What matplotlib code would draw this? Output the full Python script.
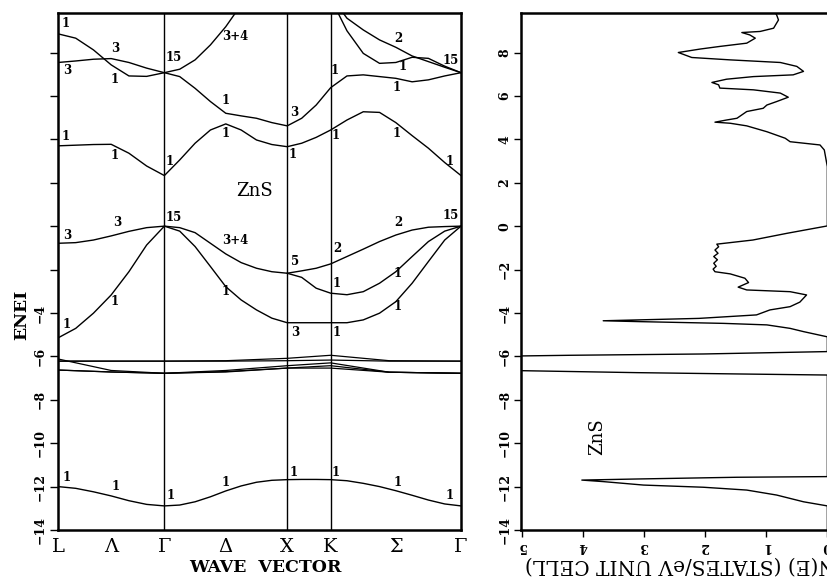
import matplotlib
matplotlib.use("Agg")
import matplotlib.pyplot as plt
import numpy as np

plt.rcParams['font.family'] = ['DejaVu Serif']

# high-symmetry points along the path (units of 2*pi/a)
sym_names = ['L', 'Λ', 'Γ', 'Δ', 'X', 'K', 'Σ', 'Γ']
sym_k = [0.0, 0.433, 0.866, 1.366, 1.866, 2.220, 2.750, 3.281]
node_k = [0.0, 0.866, 1.866, 2.220, 3.281]
seg_steps = [6, 8, 3, 8]

# band energies (eV) read on the sample grid: L..G (7), G..X (8), X..K (3), K..G (8)
nan = np.nan
band_s = [-12.00, -12.08, -12.24, -12.43, -12.65, -12.82, -12.89,
          -12.85, -12.70, -12.47, -12.20, -11.97, -11.80, -11.71, -11.68,
          -11.67, -11.67, -11.68,
          -11.73, -11.85, -12.00, -12.19, -12.40, -12.62, -12.80, -12.89]
band_v1 = [-0.79, -0.76, -0.64, -0.45, -0.24, -0.07, 0.00,
           -0.07, -0.30, -0.79, -1.28, -1.68, -1.94, -2.10, -2.17,
           -2.06, -1.94, -1.74,
           -1.40, -1.06, -0.71, -0.41, -0.18, -0.05, -0.02, 0.00]
band_v2 = [-5.15, -4.71, -4.01, -3.17, -2.10, -0.87, 0.00,
           -0.23, -0.94, -1.86, -2.79, -3.40, -3.86, -4.24, -4.45,
           -4.45, -4.45, -4.45,
           -4.45, -4.32, -4.01, -3.48, -2.63, -1.63, -0.64, 0.00]
band_v3 = [nan, nan, nan, nan, nan, nan, nan,
           nan, nan, nan, nan, nan, nan, nan, -2.17,
           -2.36, -2.86, -3.09,
           -3.16, -3.02, -2.63, -2.10, -1.40, -0.71, -0.23, 0.00]
band_c1 = [3.70, 3.73, 3.76, 3.77, 3.36, 2.77, 2.33,
           3.05, 3.82, 4.43, 4.71, 4.43, 3.97, 3.76, 3.66,
           3.82, 4.09, 4.43,
           4.89, 5.27, 5.24, 4.77, 4.17, 3.59, 2.93, 2.33]
band_c2 = [8.86, 8.66, 8.12, 7.43, 6.92, 6.90, 7.07,
           6.89, 6.35, 5.74, 5.20, 5.08, 4.97, 4.77, 4.62,
           4.97, 5.58, 6.38,
           6.92, 6.97, 6.89, 6.81, 6.65, 6.74, 6.92, 7.07]
band_c3 = [7.54, 7.61, 7.69, 7.72, 7.54, 7.28, 7.07,
           7.23, 7.66, 8.35, 9.19, 10.2, nan, nan, nan,
           nan, nan, 10.6,
           9.58, 9.04, 8.58, 8.24, 7.84, 7.58, 7.32, 7.07]
band_c4 = [nan, nan, nan, nan, nan, nan, nan,
           nan, nan, nan, nan, nan, nan, nan, nan,
           nan, nan, 10.5,
           9.00, 7.96, 7.50, 7.54, 7.78, 7.73, 7.37, 7.07]

# d bands on a coarse grid: L, mid, G, mid, X, K, 0.45 K-G, G
d_k = [0.0, 0.433, 0.866, 1.366, 1.866, 2.220, 2.697, 3.281]
band_d1 = [-6.12, -6.65, -6.78, -6.65, -6.43, -6.30, -6.73, -6.78]
band_d2 = [-6.63, -6.72, -6.78, -6.72, -6.54, -6.54, -6.73, -6.78]
band_d3 = [-6.22, -6.22, -6.22, -6.20, -6.09, -5.95, -6.20, -6.22]
band_d4 = [-6.22, -6.22, -6.22, -6.22, -6.20, -6.17, -6.22, -6.22]
band_d5 = [-6.63, -6.72, -6.78, -6.70, -6.54, -6.43, -6.73, -6.78]

# irreducible representation labels (k, E, text)
rep_labels = [
    (0.065, 9.32, '1'), (0.464, 8.17, '3'), (0.073, 7.15, '3'), (0.464, 6.74, '1'),
    (0.944, 7.75, '15'), (1.441, 8.72, '3+4'), (1.368, 5.77, '1'), (1.921, 5.22, '3'),
    (2.255, 7.15, '1'), (2.768, 8.63, '2'), (2.809, 7.34, '1'), (3.199, 7.61, '15'),
    (2.760, 6.37, '1'), (0.065, 4.11, '1'), (0.464, 3.24, '1'), (0.912, 2.97, '1'),
    (1.368, 4.25, '1'), (1.913, 3.28, '1'), (2.263, 4.16, '1'), (2.760, 4.25, '1'),
    (3.191, 2.97, '1'),
    (0.944, 0.42, '15'), (0.480, 0.19, '3'), (0.073, -0.41, '3'), (1.441, -0.68, '3+4'),
    (2.768, 0.19, '2'), (3.199, 0.47, '15'), (1.929, -1.65, '5'), (2.271, -1.05, '2'),
    (2.271, -2.62, '1'), (2.768, -2.16, '1'), (0.464, -3.45, '1'), (0.073, -4.55, '1'),
    (1.368, -3.03, '1'), (2.768, -3.72, '1'), (1.929, -4.92, '3'), (2.271, -4.92, '1'),
    (0.073, -11.60, '1'), (0.472, -12.00, '1'), (0.920, -12.43, '1'), (1.368, -11.83, '1'),
    (1.921, -11.33, '1'), (2.263, -11.33, '1'), (2.768, -11.83, '1'), (3.191, -12.43, '1'),
]

# density of states: energy (eV) and N(E) (states/eV unit cell)
dos_e = [9.82, 9.73, 9.50, 9.12, 8.97, 8.92, 8.81, 8.66, 8.43, 8.28, 8.16, 8.00,
         7.77, 7.66, 7.54, 7.36, 7.13, 6.97, 6.89, 6.77, 6.62, 6.51, 6.36, 6.28,
         6.13, 5.94, 5.74, 5.58, 5.43, 5.28, 4.97, 4.89, 4.79, 4.74, 4.62, 4.35,
         4.05, 3.89, 3.74, 3.51, 2.74, 0.01, -0.33, -0.64, -0.83,
         -0.95, -1.10, -1.25, -1.40, -1.55, -1.71, -1.85, -1.98, -2.10,
         -2.20, -2.40, -2.60, -2.81, -2.94, -3.02, -3.17, -3.50, -3.71, -3.86,
         -4.09, -4.25, -4.32, -4.36, -4.40, -4.48, -4.55, -4.71, -4.86, -5.10,
         -5.78, -5.89, -5.95, -5.98, -6.05, -6.60, -6.66, -6.75, -6.81, -6.86,
         -11.54, -11.57, -11.65, -11.70, -11.77, -11.93, -12.03, -12.16, -12.39,
         -12.70, -12.89, -14.0]
dos_n = [0.85, 0.83, 0.80, 0.88, 1.10, 1.40, 1.27, 1.18, 1.32, 1.76, 2.08, 2.44,
         2.22, 1.59, 0.77, 0.50, 0.39, 0.56, 1.21, 1.65, 1.89, 1.78, 1.76, 1.21,
         0.77, 0.64, 0.83, 0.99, 1.05, 1.32, 1.48, 1.65, 1.84, 1.59, 1.32, 0.99,
         0.69, 0.61, 0.12, 0.05, 0.0, 0.0, 0.66, 1.22, 1.81,
         1.78, 1.84, 1.79, 1.86, 1.80, 1.86, 1.82, 1.87, 1.84,
         1.59, 1.35, 1.29, 1.46, 1.32, 0.61, 0.34, 0.45, 0.61, 0.94,
         1.16, 2.10, 3.10, 3.67, 3.07, 1.70, 0.99, 0.61, 0.39, 0.0,
         0.0, 2.03, 4.21, 5.0, 8.0, 8.0, 5.0, 3.12, 1.48, 0.0,
         0.0, 1.48, 3.12, 4.02, 3.67, 3.01, 2.03, 1.32, 0.83,
         0.39, 0.0, 0.0]

W, H = 828, 577
fig = plt.figure(figsize=(W / 100, H / 100), dpi=100)

def frac(x0, y0, x1, y1):
    return [x0 / W, 1 - y1 / H, (x1 - x0) / W, (y1 - y0) / H]

serif_b = dict(family='DejaVu Serif', weight='bold')

# ---- band structure ----
ax = fig.add_axes(frac(58, 13, 461, 530))
k_dense = [node_k[0]]
for i, n in enumerate(seg_steps):
    k_dense += list(np.linspace(node_k[i], node_k[i + 1], n + 1)[1:])

for b in [band_s, band_v1, band_v2, band_v3, band_c1, band_c2, band_c3, band_c4]:
    ax.plot(k_dense, b, color='black', lw=1.0)
for b in [band_d1, band_d2, band_d3, band_d4, band_d5]:
    ax.plot(d_k, b, color='black', lw=0.9)
for kv in node_k[1:4]:
    ax.axvline(kv, color='black', lw=1.0)

for kx, e, t in rep_labels:
    ax.text(kx, e, t, ha='center', va='center', fontsize=8.5, **serif_b)
ax.text(1.604, 1.62, 'ZnS', ha='center', va='center', fontsize=13, family='DejaVu Serif')

ax.set_xlim(0, 3.281)
ax.set_ylim(-14, 9.82)
ax.set_xticks(sym_k)
ax.set_xticklabels(sym_names, fontsize=14, family='DejaVu Serif')
ax.tick_params(axis='x', length=0, pad=6)
yt = list(range(-14, 9, 2))
ax.set_yticks(yt)
ax.set_yticklabels([('\u2212' + str(-v)) if v <= -4 else '' for v in yt],
                   rotation=90, va='center', fontsize=9, **serif_b)
ax.tick_params(axis='y', direction='out', length=6, width=1.0, pad=2)
for s in ax.spines.values():
    s.set_linewidth(1.8)

fig.text(22 / W, 1 - 315 / H, 'ENEI', rotation=90, ha='center', va='center',
         fontsize=12.5, **serif_b)
fig.text(265 / W, 1 - 568 / H, 'WAVE  VECTOR', ha='center', va='center',
         fontsize=12.5, **serif_b)

# ---- density of states ----
ax2 = fig.add_axes(frac(521, 13, 842, 530))
ax2.plot(dos_n, dos_e, color='black', lw=1.0)
ax2.set_xlim(5.016, -0.240)
ax2.set_ylim(-14, 9.82)
ax2.set_xticks([5, 4, 3, 2, 1, 0])
ax2.set_xticklabels(['5', '4', '3', '2', '1', '0'], rotation=180, fontsize=9, **serif_b)
ax2.tick_params(axis='x', direction='out', length=5, width=1.0, pad=2)
ax2.set_yticks(yt)
ax2.set_yticklabels([('\u2212' + str(-v)) if v < 0 else str(v) for v in yt],
                    rotation=90, va='center', fontsize=9, **serif_b)
ax2.tick_params(axis='y', direction='out', length=5, width=1.0, pad=2)
for s in ax2.spines.values():
    s.set_linewidth(1.8)
ax2.text(3.77, -9.71, 'ZnS', rotation=90, ha='center', va='center', fontsize=13,
         family='DejaVu Serif')
fig.text(680 / W, 1 - 565 / H, 'N(E) (STATES/eV UNIT CELL)', rotation=180,
         ha='center', va='center', fontsize=14.5, family='DejaVu Serif')

fig.savefig('out.png', dpi=100)
